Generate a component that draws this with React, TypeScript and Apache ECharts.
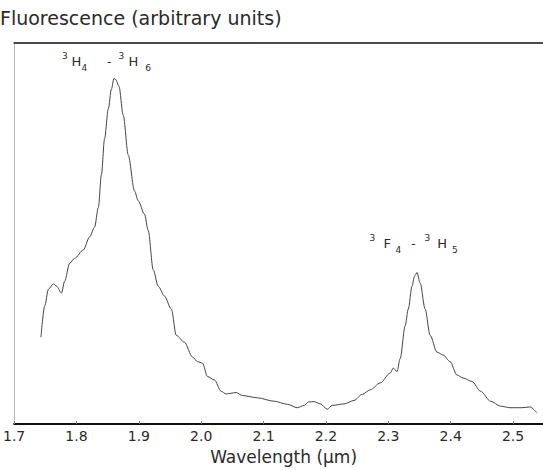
import React, { useEffect, useRef } from "react";
import * as echarts from "echarts";

// Wavelength (µm) and fluorescence intensity (arbitrary units)
const wavelength = [
  1.743, 1.749, 1.755, 1.763, 1.768, 1.776, 1.781, 1.789, 1.797, 1.811,
  1.821, 1.829, 1.835, 1.840, 1.845, 1.851, 1.856, 1.860, 1.863, 1.868,
  1.875, 1.883, 1.893, 1.899, 1.909, 1.915, 1.923, 1.931, 1.941, 1.952,
  1.960, 1.973, 1.986, 1.994, 2.002, 2.010, 2.021, 2.032, 2.040, 2.048,
  2.056, 2.066, 2.090, 2.117, 2.138, 2.154, 2.165, 2.172, 2.181, 2.191,
  2.202, 2.210, 2.229, 2.245, 2.258, 2.271, 2.287, 2.303, 2.308, 2.314,
  2.319, 2.327, 2.332, 2.338, 2.342, 2.346, 2.351, 2.359, 2.367, 2.378,
  2.388, 2.399, 2.410, 2.420, 2.434, 2.448, 2.464, 2.480, 2.495, 2.514,
  2.527, 2.538,
];
const intensity = [
  22.8, 31.0, 35.4, 36.8, 36.2, 34.4, 37.5, 42.2, 43.5, 45.7,
  49.1, 51.7, 56.8, 65.5, 74.9, 82.7, 87.9, 90.7, 90.4, 88.7,
  81.0, 70.6, 61.2, 58.6, 55.1, 50.8, 40.5, 36.2, 33.6, 30.2,
  23.3, 21.5, 17.6, 16.4, 16.0, 12.5, 11.6, 8.6, 7.9, 8.1,
  8.3, 7.5, 6.9, 6.0, 5.2, 4.3, 4.9, 5.8, 5.9, 5.3,
  3.9, 4.9, 5.3, 6.2, 7.8, 9.0, 10.8, 13.4, 14.7, 13.8,
  17.2, 25.8, 30.2, 36.2, 38.8, 39.8, 37.0, 30.2, 23.3, 18.9,
  18.1, 16.4, 12.9, 12.1, 11.2, 8.6, 6.0, 4.7, 4.3, 4.3,
  4.5, 3.0,
];
const xMin = 1.7;
const xMax = 2.548;
const xStep = 0.1;
const titleText = "Fluorescence (arbitrary units)";
const xAxisName = "Wavelength (µm)";

function peakIndex(lo: number, hi: number) {
  let best = -1;
  for (let i = 0; i < wavelength.length; i++) {
    if (wavelength[i] < lo || wavelength[i] > hi) continue;
    if (best < 0 || intensity[i] > intensity[best]) best = i;
  }
  return best;
}

export default function App() {
  const ref = useRef<HTMLDivElement>(null);
  useEffect(() => {
    if (!ref.current) return;
    const chart = echarts.init(ref.current, undefined, { renderer: "svg" });
    const font = "DejaVu Sans";
    const ink = "#2a2a2a";
    const p1 = peakIndex(1.7, 2.0);
    const p2 = peakIndex(2.2, 2.5);
    const sup = (pr: number) => ({ fontSize: 9, fontFamily: font, color: ink, verticalAlign: "top", padding: [0, pr, 0, 0] });
    const sub = (pl: number) => ({ fontSize: 9, fontFamily: font, color: ink, verticalAlign: "bottom", padding: [0, 0, 0, pl] });
    const big = { fontSize: 13, fontFamily: font, color: ink, lineHeight: 21, verticalAlign: "middle" };
    const dash = (pl: number, pr: number) => ({ fontSize: 12, fontFamily: font, color: ink, verticalAlign: "middle", padding: [0, pr, 0, pl] });
    const seriesData = wavelength.map((w, i) => [w, intensity[i]]);
    chart.setOption({
      animation: false,
      backgroundColor: "#ffffff",
      title: {
        text: titleText,
        left: 0,
        top: 8,
        padding: 0,
        textStyle: { fontFamily: font, fontSize: 19, fontWeight: "normal", color: ink },
      },
      grid: { left: 12.4, right: 0, top: 43, bottom: 40, containLabel: false },
      xAxis: [
        {
          type: "value",
          min: xMin,
          max: xMax,
          interval: xStep,
          position: "bottom",
          name: xAxisName,
          nameLocation: "middle",
          nameGap: 18,
          nameTextStyle: { fontFamily: font, fontSize: 17, color: ink, padding: [0, 0, 0, 10] },
          axisLine: { show: true, lineStyle: { color: "#111", width: 2 } },
          axisTick: { show: true, inside: true, length: 3, lineStyle: { color: "#777" } },
          axisLabel: {
            fontFamily: font,
            fontSize: 14,
            color: ink,
            margin: 5,
            showMaxLabel: false,
            formatter: (v: number) =>
              Math.abs(v * 10 - Math.round(v * 10)) < 1e-6 ? v.toFixed(1) : "",
          },
          splitLine: { show: false },
        },
        {
          type: "value",
          min: xMin,
          max: xMax,
          position: "top",
          axisLine: { show: true, onZero: false, lineStyle: { color: "#111", width: 1.5 } },
          axisTick: { show: false },
          axisLabel: { show: false },
          splitLine: { show: false },
        },
      ],
      yAxis: {
        type: "value",
        min: 0,
        max: 100,
        axisLine: { show: true, lineStyle: { color: "#aaa", type: "dotted", width: 1 } },
        axisTick: { show: false },
        axisLabel: { show: false },
        splitLine: { show: false },
      },
      series: [
        {
          type: "line",
          xAxisIndex: 0,
          data: seriesData,
          showSymbol: false,
          smooth: 0.3,
          smoothMonotone: "x",
          lineStyle: { color: "#444", width: 1 },
          markPoint: {
            symbol: "circle",
            symbolSize: 0,
            silent: true,
            data: [
              {
                coord: [wavelength[p1], intensity[p1]],
                label: {
                  show: true,
                  position: "top",
                  distance: 6,
                  offset: [-7.5, 0],
                  formatter: "{a|3}{h|H}{b|4}{d|-}{c|3}{h|H}{e|6}",
                  rich: {
                    a: sup(4),
                    h: big,
                    b: sub(0),
                    d: dash(20, 7),
                    c: sup(4.3),
                    e: sub(7),
                  },
                },
              },
              {
                coord: [wavelength[p2], intensity[p2]],
                label: {
                  show: true,
                  position: "top",
                  distance: 18,
                  offset: [-3.4, 0],
                  formatter: "{a|3}{f|F}{b|4}{d|-}{c|3}{h|H}{e|5}",
                  rich: {
                    a: sup(8.3),
                    f: big,
                    h: big,
                    b: sub(4.5),
                    d: dash(10, 9),
                    c: sup(7),
                    e: sub(5),
                  },
                },
              },
            ],
          },
        },
      ],
    });
    return () => chart.dispose();
  }, []);
  return (
    <div
      ref={ref}
      style={{ position: "fixed", left: 0, top: 0, width: 543, height: 470, background: "#fff" }}
    />
  );
}
